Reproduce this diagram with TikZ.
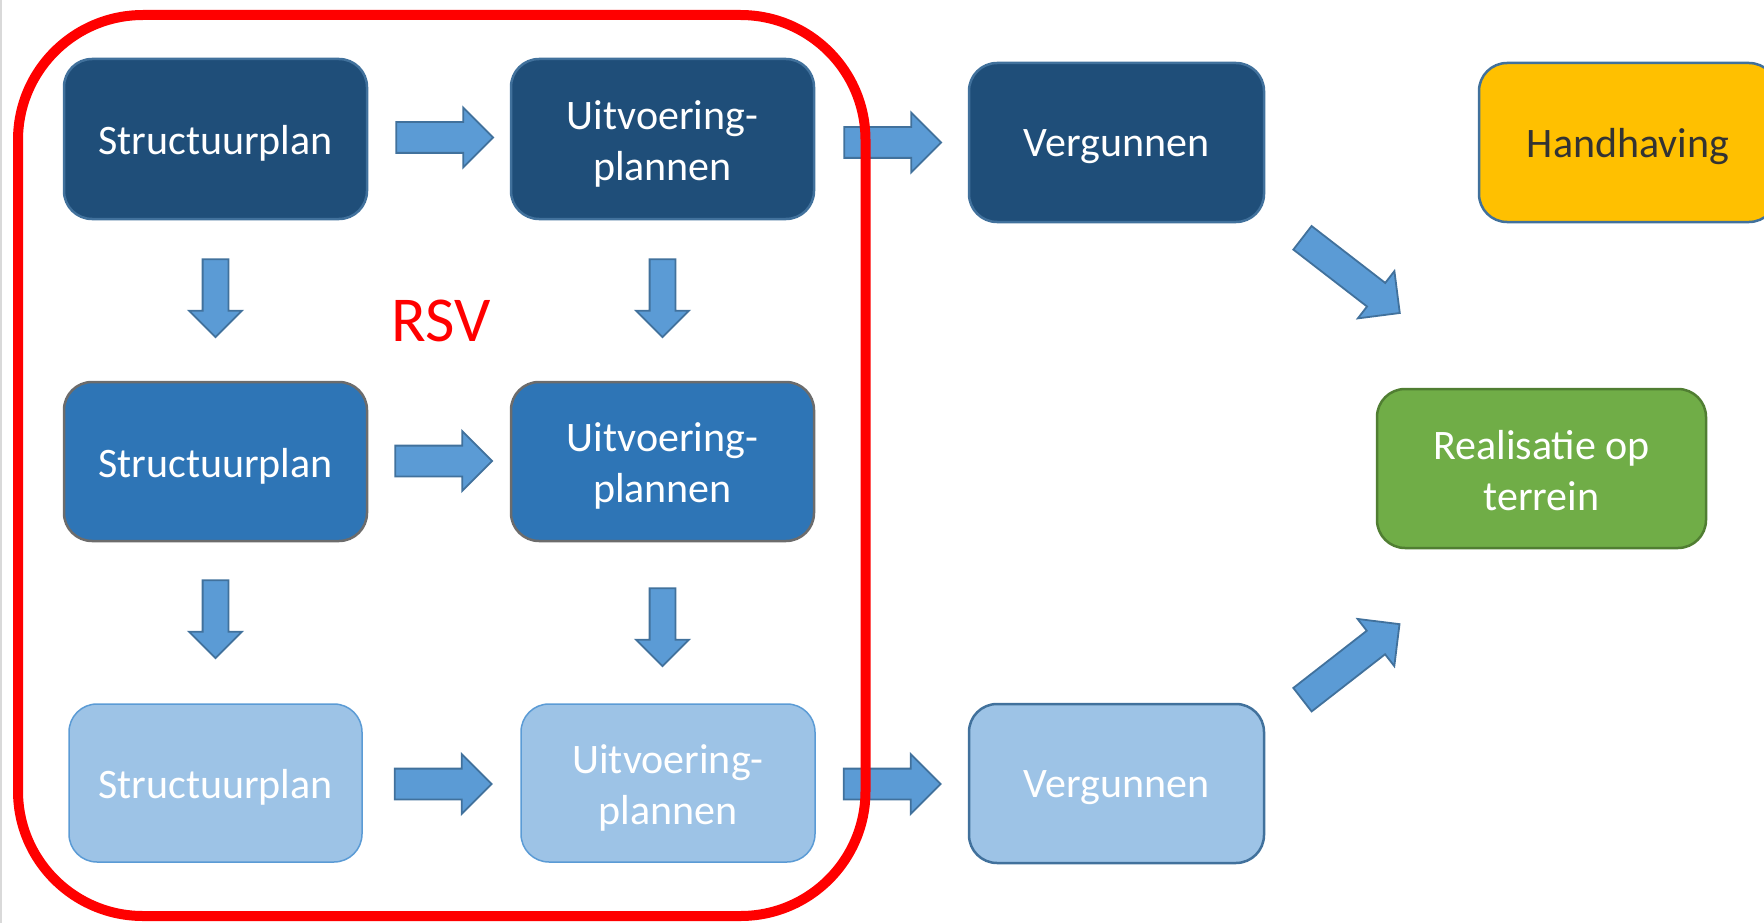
\documentclass[tikz,border=0pt]{standalone}
\usepackage{fontspec}
\setmainfont{Carlito}
\usetikzlibrary{shapes.arrows,calc}
\definecolor{dkblue}{HTML}{1F4E79}
\definecolor{mdblue}{HTML}{2E75B6}
\definecolor{ltblue}{HTML}{9DC3E6}
\definecolor{bline}{HTML}{41719C}
\definecolor{arrfill}{HTML}{5B9BD5}
\definecolor{arrline}{HTML}{41719C}
\definecolor{gold}{HTML}{FFC000}
\definecolor{grn}{HTML}{70AD47}
\definecolor{grnline}{HTML}{507E32}
\definecolor{darktext}{HTML}{333333}
\begin{document}
\begin{tikzpicture}[x=1pt,y=-1pt,
  lbl/.style={align=center, text=white, font=\fontsize{42}{51}\selectfont,
    inner sep=0pt, yshift=-4.5pt},
  box/.style={rectangle, rounded corners=28pt, line width=2.5pt, inner sep=0pt},
  rowA/.style={box, fill=dkblue, draw=bline},
  rowB/.style={box, fill=mdblue, draw=gray!85!black},
  rowC/.style={box, fill=ltblue, draw=arrfill, line width=1.5pt},
  blk/.style={single arrow, fill=arrfill, draw=arrline, line width=1.8pt,
    inner xsep=0pt, single arrow head indent=0pt, anchor=tail},
  hblk/.style={blk, minimum height=97pt, inner ysep=14.5pt, single arrow head extend=14.5pt},
  vblk/.style={blk, minimum height=78pt, inner ysep=12pt, single arrow head extend=13.5pt, rotate=-90},
  dblk/.style={blk, minimum height=123pt, inner ysep=14pt, single arrow head extend=15pt}
]
\useasboundingbox (0,0) rectangle (1764,923);
\clip (0,0) rectangle (1764,923);
\draw[gray!30, line width=2pt] (1,0) -- (1,923);

% boxes
\node[rowA, minimum width=303pt, minimum height=160pt,
  label={[lbl]center:Structuurplan}] (S1) at (215.5,139) {};
\node[rowA, minimum width=303pt, minimum height=160pt,
  label={[lbl]center:{Uitvoering-\\plannen}}] (U1) at (662.5,139) {};
\node[rowA, minimum width=295pt, minimum height=159pt,
  label={[lbl]center:Vergunnen}] (V1) at (1116.5,142.5) {};
\node[box, fill=gold, draw=bline, minimum width=298pt, minimum height=159pt,
  label={[lbl, text=darktext]center:Handhaving}] (H) at (1628,142.5) {};

\node[rowB, minimum width=303pt, minimum height=159pt,
  label={[lbl]center:Structuurplan}] (S2) at (215.5,461.5) {};
\node[rowB, minimum width=303pt, minimum height=159pt,
  label={[lbl]center:{Uitvoering-\\plannen}}] (U2) at (662.5,461.5) {};
\node[box, fill=grn, draw=grnline, minimum width=329pt, minimum height=159pt,
  label={[lbl, yshift=2pt]center:{Realisatie op\\terrein}}] (R) at (1541.5,468.5) {};

\node[rowC, minimum width=293pt, minimum height=158pt,
  label={[lbl]center:Structuurplan}] (S3) at (215.5,783) {};
\node[rowC, minimum width=294pt, minimum height=158pt,
  label={[lbl]center:{Uitvoering-\\plannen}}] (U3) at (668,783) {};
\node[box, fill=ltblue, draw=bline, minimum width=295pt, minimum height=159pt,
  label={[lbl]center:Vergunnen}] (V3) at (1116.5,783.5) {};

% block arrows (placed by their tails)
\node[hblk] (a1) at ($(S1.east)+(27,-1.5)$) {};
\node[hblk] (a2) at ($(U1.east)+(28,3.5)$) {};
\node[hblk] (a3) at ($(S2.east)+(26,-0.5)$) {};
\node[hblk] (a4) at ($(S3.east)+(31,1)$) {};
\node[hblk] (a5) at ($(U3.east)+(27,1)$) {};

\node[vblk] (b1) at ($(S1.south)+(0,38)$) {};
\node[vblk] (b2) at ($(U1.south)+(0,38)$) {};
\node[vblk] (b3) at ($(S2.south)+(0,37)$) {};
\node[vblk] (b4) at ($(U2.south)+(0,45)$) {};

\node[dblk, rotate=-37.7] (d1) at ($(V1.south east)+(36.5,14)$) {};
\node[dblk, rotate=37.9] (d2) at ($(V3.north east)+(36.5,-2.5)$) {};

% RSV frame
\draw[red, line width=10pt, rounded corners=125pt] (18,15) rectangle (865.5,916);
\node[text=red, font=\fontsize{64}{70}\selectfont, inner sep=0pt] (rsv) at (441,321) {RSV};
\end{tikzpicture}
\end{document}
